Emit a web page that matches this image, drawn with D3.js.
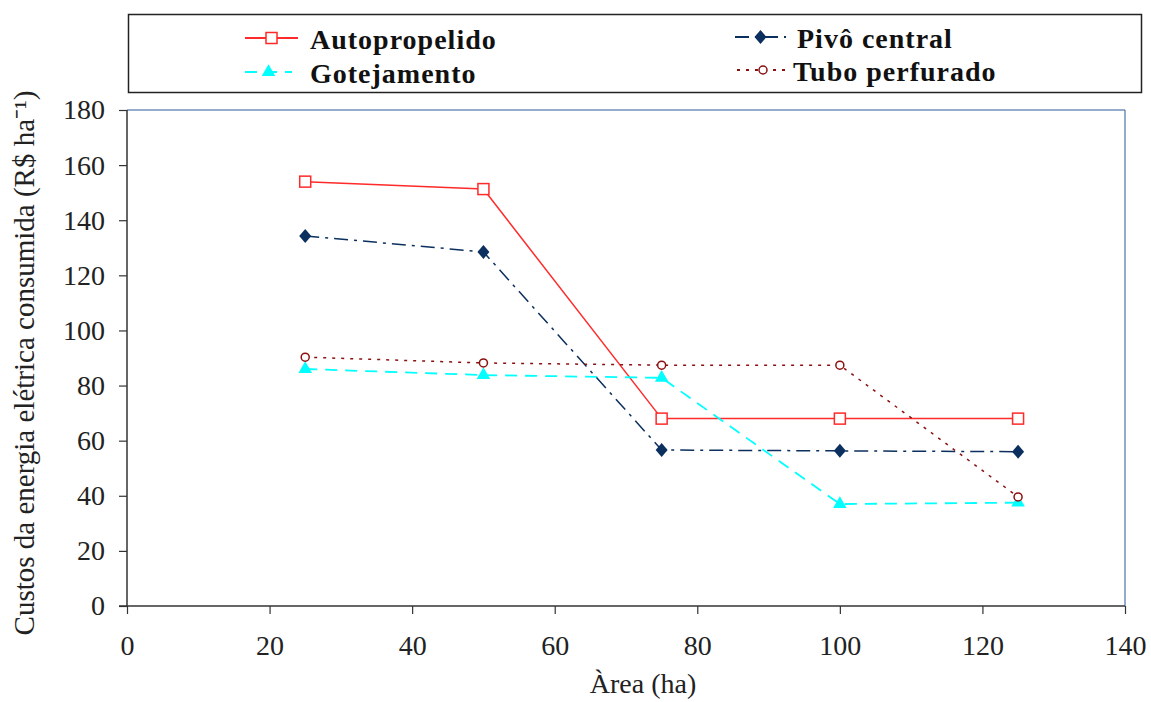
<!DOCTYPE html>
<html>
<head>
<meta charset="utf-8">
<script src="https://cdn.jsdelivr.net/npm/d3@7"></script>
<style>
  body { margin: 0; background: #fff; }
  svg { display: block; }
</style>
</head>
<body>
<div id="chart"></div>
<script>
// data
const areas = [25, 50, 75, 100, 125];
const autopropelido = [154, 151.3, 68, 68, 68];
const pivoCentral = [134.3, 128.5, 56.6, 56.3, 56];
const gotejamento = [86, 83.8, 82.8, 37, 37.5];
const tuboPerfurado = [90.3, 88.2, 87.4, 87.4, 39.6];
const xTicks = [0, 20, 40, 60, 80, 100, 120, 140];
const yTicks = [0, 20, 40, 60, 80, 100, 120, 140, 160, 180];

const series = [
  { name: 'Autopropelido', values: autopropelido, color: '#ff2a2a', dash: null, marker: 'square' },
  { name: 'Gotejamento', values: gotejamento, color: '#00ffff', dash: '12,8', marker: 'triangle' },
  { name: 'Pivô central', values: pivoCentral, color: '#0b2f5e', dash: '14,6,3,6', marker: 'diamond' },
  { name: 'Tubo perfurado', values: tuboPerfurado, color: '#8b1010', dash: '3,6', marker: 'circle' }
];

const W = 1151, H = 702;
const margin = { left: 127, right: 26, top: 110, bottom: 96 };
const serif = '"Liberation Serif", "Times New Roman", serif';
const fs = 28;

const svg = d3.select('#chart').append('svg').attr('width', W).attr('height', H);

const x = d3.scaleLinear().domain([0, 140]).range([margin.left, W - margin.right]);
const y = d3.scaleLinear().domain([0, 180]).range([H - margin.bottom, margin.top]);

// plot frame (top/right)
svg.append('path')
  .attr('d', `M${x(0)},${y(180)}H${x(140)}V${y(0)}`)
  .attr('fill', 'none').attr('stroke', '#2a5a9a').attr('stroke-width', 1);

// axes
const yAxis = svg.append('g').attr('transform', `translate(${x(0)},0)`)
  .call(d3.axisLeft(y).tickValues(yTicks).tickSize(8).tickPadding(14).tickFormat(d3.format('d')));
const xAxis = svg.append('g').attr('transform', `translate(0,${y(0)})`)
  .call(d3.axisBottom(x).tickValues(xTicks).tickSize(8).tickPadding(21).tickFormat(d3.format('d')));

[yAxis, xAxis].forEach(function (g) {
  g.select('.domain').attr('stroke', '#333').attr('stroke-width', 1.5);
  g.selectAll('.tick line').attr('stroke', '#333').attr('stroke-width', 1.2);
  g.selectAll('.tick text').attr('font-family', serif).attr('font-size', fs).attr('fill', '#222');
});
yAxis.select('.domain').attr('d', `M0,${y(180)}V${y(0)}`);
xAxis.select('.domain').attr('d', `M${x(0) - 8},0H${x(140)}`);

// axis titles
svg.append('text')
  .attr('transform', `translate(34,${(y(0) + y(180)) / 2 + 5}) rotate(-90)`)
  .attr('text-anchor', 'middle')
  .attr('font-family', serif).attr('font-size', 29).attr('fill', '#222')
  .text('Custos da energia elétrica consumida (R$ ha⁻¹)');

svg.append('text')
  .attr('x', (x(0) + x(140)) / 2 + 17).attr('y', 693)
  .attr('text-anchor', 'middle')
  .attr('font-family', serif).attr('font-size', fs).attr('fill', '#222')
  .text('Àrea (ha)');

// marker drawing
function drawMarker(g, s, cx, cy) {
  if (s.marker === 'square') {
    g.append('rect').attr('x', cx - 5.5).attr('y', cy - 5.5).attr('width', 11).attr('height', 11)
      .attr('fill', '#fff').attr('stroke', s.color).attr('stroke-width', 1.5);
  } else if (s.marker === 'triangle') {
    g.append('path').attr('d', d3.symbol(d3.symbolTriangle, 80)()).attr('transform', `translate(${cx},${cy})`)
      .attr('fill', s.color);
  } else if (s.marker === 'diamond') {
    g.append('path').attr('d', `M0,-7L6,0L0,7L-6,0Z`).attr('transform', `translate(${cx},${cy})`)
      .attr('fill', s.color);
  } else {
    g.append('circle').attr('cx', cx).attr('cy', cy).attr('r', 4)
      .attr('fill', '#fff').attr('stroke', s.color).attr('stroke-width', 1.5);
  }
}

const line = d3.line().x(function (d) { return x(d[0]); }).y(function (d) { return y(d[1]); });

series.forEach(function (s) {
  const pts = areas.map(function (a, i) { return [a, s.values[i]]; });
  svg.append('path').datum(pts)
    .attr('d', line)
    .attr('fill', 'none')
    .attr('stroke', s.color)
    .attr('stroke-width', s.marker === 'triangle' ? 1.8 : 1.5)
    .attr('stroke-dasharray', s.dash);
  const g = svg.append('g');
  pts.forEach(function (p) { drawMarker(g, s, x(p[0]), y(p[1])); });
});

// legend
svg.append('rect').attr('x', 128.5).attr('y', 14.5).attr('width', 1013).attr('height', 78)
  .attr('fill', '#fff').attr('stroke', '#222').attr('stroke-width', 1.5);

const legendPos = [
  { x1: 245, x2: 298, ly: 38, tx: 310 },
  { x1: 245, x2: 292, ly: 72, tx: 310 },
  { x1: 735, x2: 786, ly: 37, tx: 797 },
  { x1: 737, x2: 789, ly: 70, tx: 793 }
];
series.forEach(function (s, i) {
  const p = legendPos[i];
  const g = svg.append('g');
  g.append('line').attr('x1', p.x1).attr('x2', p.x2).attr('y1', p.ly).attr('y2', p.ly)
    .attr('stroke', s.color).attr('stroke-width', 1.8).attr('stroke-dasharray', s.dash);
  drawMarker(g, s, (p.x1 + p.x2) / 2, p.ly);
  g.append('text').attr('x', p.tx).attr('y', p.ly + 11)
    .attr('font-family', serif).attr('font-size', 28).attr('font-weight', 'bold')
    .attr('letter-spacing', 1).attr('fill', '#111')
    .text(s.name);
});
</script>
</body>
</html>
